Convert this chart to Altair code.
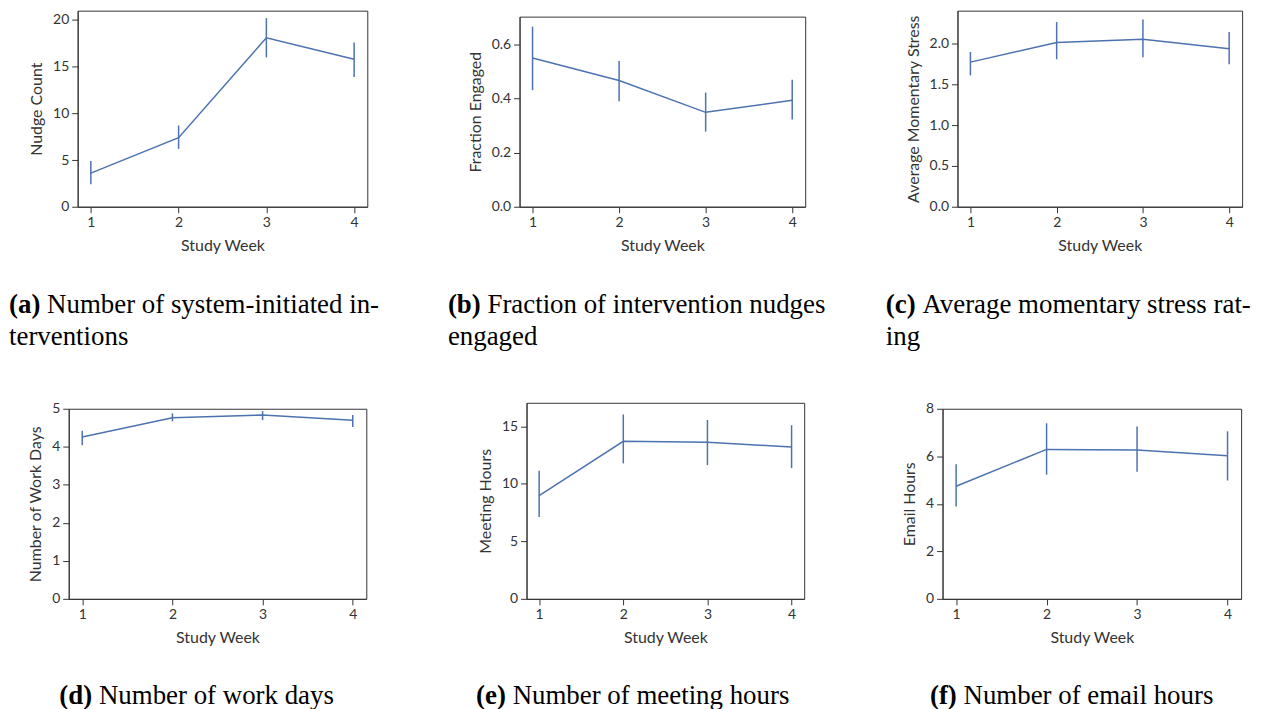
import altair as alt
import pandas as pd

weeks = [1, 2, 3, 4]

a_mean = [3.6, 7.4, 18.1, 15.8]
a_lo = [2.4, 6.2, 16.0, 13.9]
a_hi = [4.9, 8.7, 20.2, 17.6]

b_mean = [0.55, 0.467, 0.349, 0.394]
b_lo = [0.431, 0.39, 0.278, 0.323]
b_hi = [0.666, 0.539, 0.422, 0.47]

c_mean = [1.77, 2.01, 2.05, 1.935]
c_lo = [1.607, 1.805, 1.83, 1.744]
c_hi = [1.895, 2.26, 2.292, 2.138]

d_mean = [4.26, 4.765, 4.835, 4.695]
d_lo = [4.04, 4.67, 4.70, 4.52]
d_hi = [4.42, 4.88, 4.94, 4.835]

e_mean = [8.98, 13.7, 13.62, 13.2]
e_lo = [7.11, 11.78, 11.63, 11.37]
e_hi = [11.14, 16.04, 15.55, 15.1]

f_mean = [4.74, 6.29, 6.26, 6.02]
f_lo = [3.89, 5.23, 5.35, 4.98]
f_hi = [5.66, 7.39, 7.25, 7.05]

BLUE = "#4c72b0"
SANS = "Lato"
SERIF = "Liberation Serif"
CAP_SIZE = 27

# sub-figure boxes in page pixels
COLS = [(9, 440), (440, 878), (878, 1266)]
ROWS = [(9, 360), (361, 690)]


def txt(s, x, y, bold=False, align="left"):
    return (
        alt.Chart(pd.DataFrame({"t": [s]}))
        .mark_text(font=SERIF, fontSize=CAP_SIZE, fontWeight="bold" if bold else "normal",
                   align=align, baseline="alphabetic", color="black")
        .encode(x=alt.value(x), y=alt.value(y), text="t:N")
    )


def spacer():
    return (
        alt.Chart(pd.DataFrame({"v": pd.Series([], dtype=float)}))
        .mark_point(opacity=0, size=0, strokeWidth=0)
        .encode(x=alt.value(0), y=alt.value(0))
        .properties(width=1, height=1, view=alt.ViewBackground(stroke="transparent"))
    )


def panel(mean, lo, hi, ytitle, ydom, yticks, fmt, w, h, origin, col, row,
          label, lines, split, start, base_y):
    ox, oy = origin
    df = pd.DataFrame({"week": weeks, "mean": mean, "lo": lo, "hi": hi})
    base = alt.Chart(df)
    x = alt.X("week:Q", scale=alt.Scale(domain=[0.85, 4.15], nice=False, zero=False),
              axis=alt.Axis(values=weeks, format="d", title="Study Week", labelOverlap=False))
    y = alt.Y("mean:Q", scale=alt.Scale(domain=ydom, nice=False),
              axis=alt.Axis(values=yticks, format=fmt, title=ytitle, labelOverlap=False,
                            tickCount=len(yticks)))
    line = base.mark_line(color=BLUE, strokeWidth=1.5).encode(x=x, y=y)
    err = base.mark_rule(color=BLUE, strokeWidth=1.5).encode(x="week:Q", y="lo:Q", y2="hi:Q")
    layers = [line, err]
    # caption
    layers.append(txt(label, split - ox, base_y - oy, bold=True, align="right"))
    layers.append(txt(lines[0], split + 6.75 - ox, base_y - oy))
    if len(lines) > 1:
        layers.append(txt(lines[1], start - ox, base_y + 32 - oy))
    # invisible layout box of the sub-figure
    (cl, cr), (rt, rb) = COLS[col], ROWS[row]
    box = (
        alt.Chart(pd.DataFrame({"v": [0]}))
        .mark_rule(opacity=0, strokeWidth=1)
        .encode(x=alt.value(cl - ox), x2=alt.value(cr - ox),
                y=alt.value(rt - oy), y2=alt.value(rb - oy))
    )
    layers.append(box)
    chart = alt.layer(*layers).properties(width=w, height=h)
    return alt.vconcat(spacer(), chart, spacing=0)


pa = panel(a_mean, a_lo, a_hi, "Nudge Count", [0, 21], [0, 5, 10, 15, 20], "d", 291, 197,
           (77, 10), 0, 0, "(a)", ["Number of system-initiated in-", "terventions"], 39.5, 8, 314)
pb = panel(b_mean, b_lo, b_hi, "Fraction Engaged", [0, 0.703], [0, 0.2, 0.4, 0.6], ".1f", 287, 191,
           (519, 16), 1, 0, "(b)", ["Fraction of intervention nudges", "engaged"], 480, 447, 314)
pc = panel(c_mean, c_lo, c_hi, "Average Momentary Stress", [0, 2.40], [0, 0.5, 1.0, 1.5, 2.0], ".1f",
           286, 197, (957, 10), 2, 0, "(c)", ["Average momentary stress rat-", "ing"], 915, 885, 314)
pd_ = panel(d_mean, d_lo, d_hi, "Number of Work Days", [0, 5], [0, 1, 2, 3, 4, 5], "d", 299, 191,
            (69, 406), 0, 1, "(d)", ["Number of work days"], 92.6, 0, 702.5)
pe = panel(e_mean, e_lo, e_hi, "Meeting Hours", [0, 17.05], [0, 5, 10, 15], "d", 279, 197,
           (527, 400), 1, 1, "(e)", ["Number of meeting hours"], 506.3, 0, 702.5)
pf = panel(f_mean, f_lo, f_hi, "Email Hours", [0, 8], [0, 2, 4, 6, 8], "d", 300, 191,
           (943, 406), 2, 1, "(f)", ["Number of email hours"], 957.3, 0, 702.5)

row1 = alt.hconcat(spacer(), pa, pb, pc, spacing=0)
row2 = alt.hconcat(spacer(), pd_, pe, pf, spacing=0)

chart = (
    alt.vconcat(row1, row2, spacing=0)
    .properties(padding={"left": -3, "top": -4, "right": 0, "bottom": 0}, background="white")
    .configure_view(stroke="#333333", strokeWidth=1)
    .configure_axis(
        grid=False,
        domainColor="#333333",
        tickColor="#333333",
        tickSize=6,
        labelFont=SANS,
        labelFontSize=14,
        labelColor="#333333",
        labelPadding=3,
        labelOverlap=False,
        titleFont=SANS,
        titleFontSize=16,
        titleFontWeight="normal",
        titleColor="#333333",
        titlePadding=8,
    )
)

chart.save("out.html", embed_options={"renderer": "svg", "actions": False})
